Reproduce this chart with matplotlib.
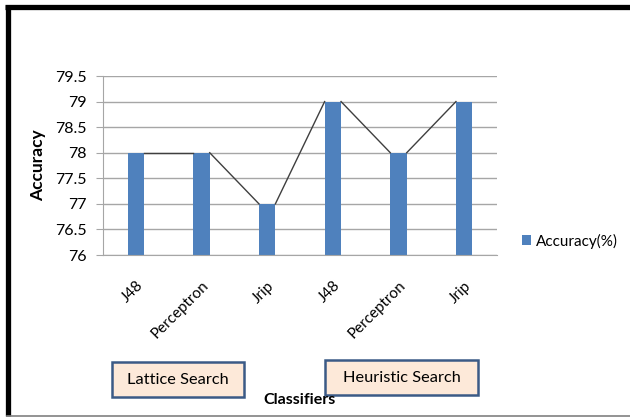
import matplotlib
matplotlib.use("Agg")
import matplotlib.pyplot as plt
from matplotlib.lines import Line2D
from matplotlib.patches import Rectangle

classifiers = ["J48", "Perceptron", "Jrip", "J48", "Perceptron", "Jrip"]
accuracy = [78, 78, 77, 79, 78, 79]
y_ticks = [76, 76.5, 77, 77.5, 78, 78.5, 79, 79.5]
y_tick_labels = ["76", "76.5", "77", "77.5", "78", "78.5", "79", "79.5"]
groups = ["Lattice Search", "Heuristic Search"]

plt.rcParams["font.family"] = ["Lato", "DejaVu Sans"]

fig = plt.figure(figsize=(6.30, 4.19), dpi=100)
ax = fig.add_axes([0.1635, 0.3914, 0.6254, 0.4272])

bar_color = "#4f81bd"
grid_color = "#a6a6a6"
width = 0.25
x = list(range(len(classifiers)))

ax.set_axisbelow(True)
ax.yaxis.grid(True, color=grid_color, linewidth=1.0)
bars = ax.bar(x, [v - 76 for v in accuracy], bottom=76, width=width,
              color=bar_color, label="Accuracy(%)", zorder=2)

# connectors from the top-right corner of each bar to the top-left of the next
for i in range(len(accuracy) - 1):
    ax.plot([x[i] + width / 2, x[i + 1] - width / 2],
            [accuracy[i], accuracy[i + 1]],
            color="#3f3f3f", linewidth=1.0, zorder=3)

ax.set_xlim(-0.5, len(classifiers) - 0.5)
ax.set_ylim(76, 79.5)
ax.set_yticks(y_ticks)
ax.set_yticklabels(y_tick_labels, fontsize=11.5)
ax.set_xticks(x)
ax.set_xticklabels(classifiers, rotation=45, ha="right", rotation_mode="anchor",
                   fontsize=11)
ax.tick_params(axis="y", length=5, color=grid_color, pad=7)
ax.tick_params(axis="x", length=0, pad=17)

for s in ["top", "right"]:
    ax.spines[s].set_visible(False)
ax.spines["left"].set_color(grid_color)
ax.spines["bottom"].set_color(grid_color)

ax.set_ylabel("Accuracy", fontsize=12.5, fontweight="bold", labelpad=6)
fig.text(0.475, 1 - 400 / 419, "Classifiers", fontsize=11.5, fontweight="bold",
         ha="center", va="center")

leg = fig.legend(handles=[bars], labels=["Accuracy(%)"], loc="center left",
                 bbox_to_anchor=(0.812, 1 - 241 / 419), frameon=False,
                 fontsize=11, handlelength=0.6, handleheight=0.6,
                 handletextpad=0.3, borderpad=0.2)

# group boxes under the category labels
box_specs = [(112, 362, 132, 35), (325, 360, 153, 35)]
for (bx, by, bw, bh), name in zip(box_specs, groups):
    fx, fy = bx / 630, 1 - (by + bh) / 419
    fw, fh = bw / 630, bh / 419
    fig.patches.append(Rectangle((fx, fy), fw, fh, transform=fig.transFigure,
                                 facecolor="#fde9d9", edgecolor="#3b5a86",
                                 linewidth=1.8))
    fig.text(fx + fw / 2, fy + fh / 2, name, fontsize=11.8, ha="center",
             va="center")

# outer frame
fig.add_artist(Line2D([7.5 / 630, 7.5 / 630], [1 - 5 / 419, 1 - 416 / 419],
                      transform=fig.transFigure, color="black", linewidth=3.8,
                      solid_capstyle="butt"))
fig.add_artist(Line2D([5 / 630, 1], [1 - 7.5 / 419, 1 - 7.5 / 419],
                      transform=fig.transFigure, color="black", linewidth=3.8,
                      solid_capstyle="butt"))
fig.add_artist(Line2D([7 / 630, 1], [1 - 416 / 419, 1 - 416 / 419],
                      transform=fig.transFigure, color="#808080", linewidth=1.2))

fig.savefig("out.png", dpi=100, facecolor="white")
